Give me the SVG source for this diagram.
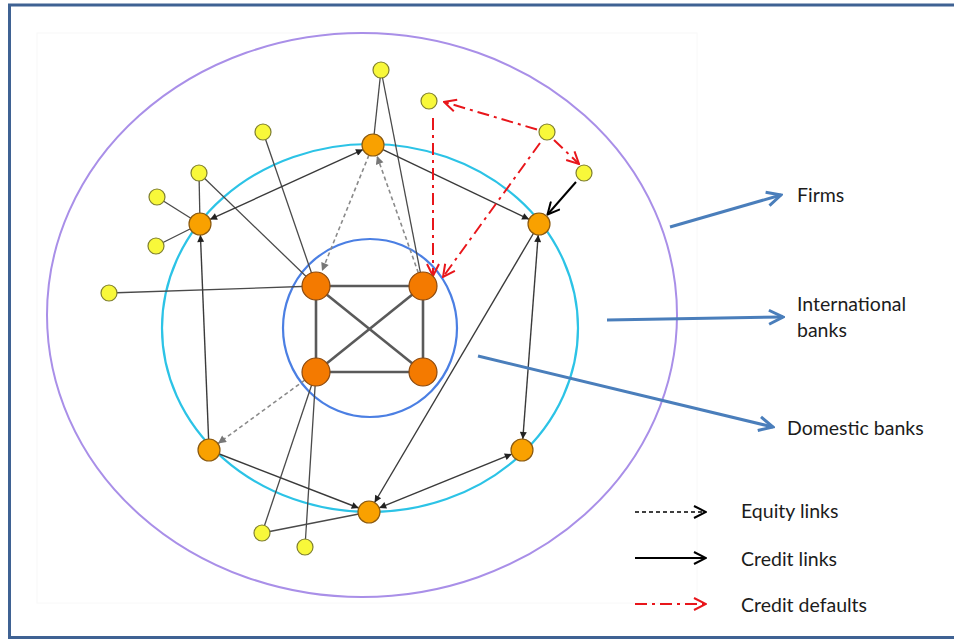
<svg xmlns="http://www.w3.org/2000/svg" width="954" height="639" viewBox="0 0 954 639">
<style>
.ring{fill:none}
.cr{stroke:#3a3a3a;stroke-width:1.4;fill:none}
.ln{stroke:#4a4a4a;stroke-width:1.3;fill:none}
.sq{stroke:#5a5a5a;stroke-width:2.6;fill:none}
.eq{stroke:#8a8a8a;stroke-width:1.6;stroke-dasharray:4 3;fill:none}
.df{stroke:#e8161b;stroke-width:2;stroke-dasharray:12 5 3 5;fill:none}
.lab{stroke:#4a7ebb;stroke-width:3;fill:none}
.inner{fill:#f47a00;stroke:#8b4a10;stroke-width:1.2}
.outer{fill:#f9a100;stroke:#8b5a10;stroke-width:1.2}
.firm{fill:#f8f83a;stroke:#7f7f30;stroke-width:1.2}
text{font-family:Lato,"Liberation Sans",sans-serif;font-size:19.5px;fill:#1c1c1c}
</style>
<defs>
<marker id="ah" viewBox="0 0 10 10" refX="10" refY="5" markerWidth="9" markerHeight="7" markerUnits="userSpaceOnUse" orient="auto-start-reverse"><path d="M0,0 L10,5 L0,10 z" fill="#222"/></marker>
<marker id="ahg" viewBox="0 0 10 10" refX="10" refY="5" markerWidth="9" markerHeight="8" markerUnits="userSpaceOnUse" orient="auto"><path d="M0,0 L10,5 L0,10 z" fill="#777"/></marker>
<marker id="chk" viewBox="0 0 14 14" refX="13" refY="7" markerWidth="14" markerHeight="14" markerUnits="userSpaceOnUse" orient="auto"><path d="M1,1 L13,7 L1,13" fill="none" stroke="#000" stroke-width="2"/></marker>
<marker id="chr" viewBox="0 0 14 14" refX="13" refY="7" markerWidth="14" markerHeight="14" markerUnits="userSpaceOnUse" orient="auto"><path d="M1,1 L13,7 L1,13" fill="none" stroke="#e8161b" stroke-width="2"/></marker>
<marker id="chb" viewBox="0 0 18 18" refX="16" refY="9" markerWidth="18" markerHeight="18" markerUnits="userSpaceOnUse" orient="auto"><path d="M2,2 L16,9 L2,16" fill="none" stroke="#4a7ebb" stroke-width="3"/></marker>
</defs>
<rect x="0" y="0" width="954" height="639" fill="#fff"/>
<path d="M9.5,640 L9.5,5 L960,5 M9.5,637.5 L960,637.5" fill="none" stroke="#3f6293" stroke-width="3"/>
<rect x="37" y="33" width="660" height="570" fill="none" stroke="#f8f8f8" stroke-width="1"/>
<g id="rings">
<ellipse class="ring" cx="362" cy="315" rx="315" ry="282" stroke="#a98fe8" stroke-width="2"/>
<ellipse class="ring" cx="370" cy="328" rx="208" ry="184" stroke="#2cc3e6" stroke-width="2.2"/>
<ellipse class="ring" cx="370" cy="328" rx="87" ry="89" stroke="#4b7fe3" stroke-width="2.2"/>
</g>
<g id="connectors">
<line class="ln" x1="381" y1="70" x2="373" y2="145"/>
<line class="ln" x1="381" y1="70" x2="423" y2="286"/>
<line class="ln" x1="263" y1="132" x2="316" y2="286"/>
<line class="ln" x1="199" y1="173" x2="200" y2="224"/>
<line class="ln" x1="199" y1="173" x2="316" y2="286"/>
<line class="ln" x1="157" y1="197" x2="200" y2="224"/>
<line class="ln" x1="156" y1="246" x2="200" y2="224"/>
<line class="ln" x1="109" y1="293" x2="316" y2="286"/>
<line class="ln" x1="262" y1="533" x2="316" y2="372"/>
<line class="ln" x1="305" y1="547" x2="316" y2="372"/>
<line class="ln" x1="262" y1="533" x2="369" y2="512"/>
<line class="sq" x1="316" y1="286" x2="423" y2="286"/>
<line class="sq" x1="316" y1="372" x2="423" y2="372"/>
<line class="sq" x1="316" y1="286" x2="316" y2="372"/>
<line class="sq" x1="423" y1="286" x2="423" y2="372"/>
<line class="sq" x1="316" y1="286" x2="423" y2="372"/>
<line class="sq" x1="423" y1="286" x2="316" y2="372"/>
<line class="cr" x1="210" y1="219.4" x2="363" y2="149.6" marker-start="url(#ah)" marker-end="url(#ah)"/>
<line class="cr" x1="382.9" y1="149.7" x2="529.1" y2="219.3" marker-end="url(#ah)"/>
<line class="cr" x1="208.6" y1="439" x2="200.4" y2="235" marker-end="url(#ah)"/>
<line class="cr" x1="219.3" y1="454" x2="358.7" y2="508" marker-end="url(#ah)"/>
<line class="cr" x1="533.4" y1="233.5" x2="374.6" y2="502.5" marker-end="url(#ah)"/>
<line class="cr" x1="538.2" y1="235" x2="522.8" y2="439" marker-start="url(#ah)" marker-end="url(#ah)"/>
<line class="cr" x1="379.2" y1="507.9" x2="511.8" y2="454.1" marker-start="url(#ah)" marker-end="url(#ah)"/>
<line x1="576" y1="182" x2="547.5" y2="214.5" stroke="#000" stroke-width="2" marker-end="url(#chk)"/>
<line class="eq" x1="368.9" y1="155.2" x2="322" y2="271" marker-end="url(#ahg)"/>
<line class="eq" x1="418.3" y1="272.8" x2="377" y2="156" marker-end="url(#ahg)"/>
<line class="eq" x1="304.7" y1="380.2" x2="218" y2="443.5" marker-end="url(#ahg)"/>
<line class="df" x1="537" y1="129.5" x2="444" y2="102" marker-end="url(#chr)"/>
<line class="df" x1="554" y1="140" x2="579" y2="164" marker-end="url(#chr)"/>
<line class="df" x1="433" y1="118" x2="433" y2="276" marker-end="url(#chr)"/>
<line class="df" x1="540" y1="143" x2="443" y2="277" marker-end="url(#chr)"/>
<line class="lab" x1="670" y1="227" x2="781" y2="195" marker-end="url(#chb)"/>
<line class="lab" x1="607" y1="320" x2="783" y2="317" marker-end="url(#chb)"/>
<line class="lab" x1="478" y1="356" x2="773" y2="427" marker-end="url(#chb)"/>
</g>
<g id="domestic-banks">
<circle class="inner" cx="316" cy="286" r="14"/>
<circle class="inner" cx="423" cy="286" r="14"/>
<circle class="inner" cx="316" cy="372" r="14"/>
<circle class="inner" cx="423" cy="372" r="14"/>
</g>
<g id="international-banks">
<circle class="outer" cx="373" cy="145" r="11"/>
<circle class="outer" cx="539" cy="224" r="11"/>
<circle class="outer" cx="200" cy="224" r="11"/>
<circle class="outer" cx="209" cy="450" r="11"/>
<circle class="outer" cx="369" cy="512" r="11"/>
<circle class="outer" cx="522" cy="450" r="11"/>
</g>
<g id="firms">
<circle class="firm" cx="381" cy="70" r="8"/>
<circle class="firm" cx="429" cy="101" r="8"/>
<circle class="firm" cx="263" cy="132" r="8"/>
<circle class="firm" cx="547" cy="132" r="8"/>
<circle class="firm" cx="584" cy="173" r="8"/>
<circle class="firm" cx="199" cy="173" r="8"/>
<circle class="firm" cx="157" cy="197" r="8"/>
<circle class="firm" cx="156" cy="246" r="8"/>
<circle class="firm" cx="109" cy="293" r="8"/>
<circle class="firm" cx="262" cy="533" r="8"/>
<circle class="firm" cx="305" cy="547" r="8"/>
</g>
<g id="labels">
<text x="797" y="202">Firms</text>
<text x="797" y="311">International</text>
<text x="797" y="337">banks</text>
<text x="787" y="435">Domestic banks</text>
</g>
<g id="legend">
<line x1="635" y1="512" x2="706" y2="512" stroke="#000" stroke-width="1.6" stroke-dasharray="4 3" marker-end="url(#chk)"/>
<line x1="635" y1="558" x2="706" y2="558" stroke="#000" stroke-width="1.8" marker-end="url(#chk)"/>
<line x1="635" y1="604" x2="706" y2="604" class="df" marker-end="url(#chr)"/>
<text x="741" y="518">Equity links</text>
<text x="741" y="566">Credit links</text>
<text x="741" y="612">Credit defaults</text>
</g>
</svg>
